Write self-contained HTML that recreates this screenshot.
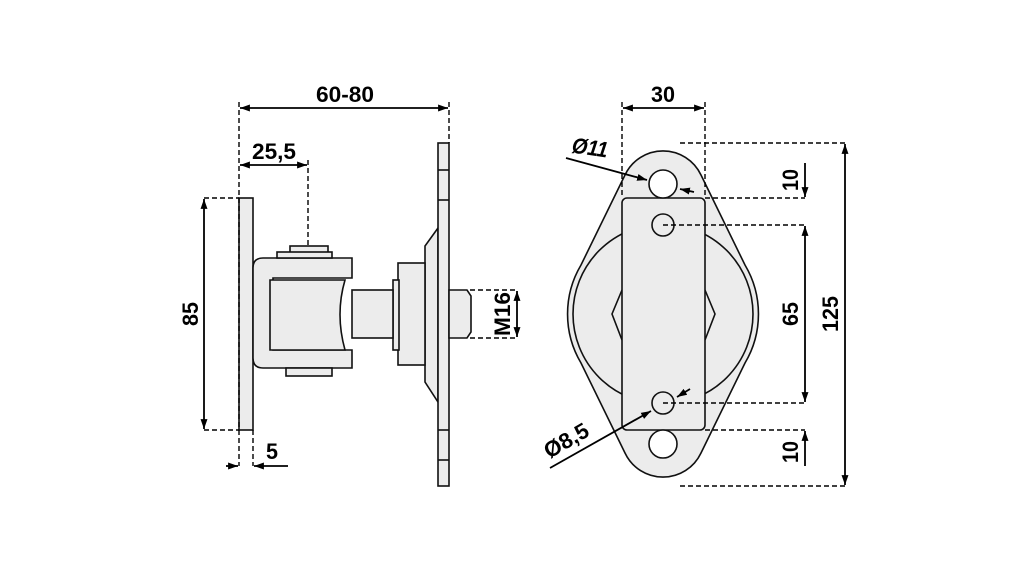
<!DOCTYPE html>
<html><head><style>html,body{margin:0;padding:0;background:#fff}svg{display:block}</style></head>
<body>
<svg width="1021" height="567" viewBox="0 0 1021 567" xmlns="http://www.w3.org/2000/svg">
<defs>
<marker id="a" viewBox="0 0 10 10" refX="10" refY="5" markerWidth="5.5" markerHeight="5.5" orient="auto-start-reverse"><path d="M0,1.5 L10,5 L0,8.5 z" fill="#000"/></marker>
</defs>
<g fill="#ececec" stroke="#111" stroke-width="1.6">
<rect x="239" y="198" width="14" height="232"/>
<path d="M438,228 L425,246 L425,382 L438,402 Z"/>
<rect x="438" y="143" width="11" height="343"/>
<line x1="438" y1="170" x2="449" y2="170"/><line x1="438" y1="200" x2="449" y2="200"/>
<line x1="438" y1="430" x2="449" y2="430"/><line x1="438" y1="460" x2="449" y2="460"/>
<rect x="398" y="263" width="27" height="102"/>
<rect x="393" y="280" width="6" height="70"/>
<rect x="352" y="290" width="41" height="48"/>
<path d="M449,290 L467,290 L471,296 L471,332 L467,338 L449,338 Z"/>
<path d="M253,268 Q253,258 263,258 L352,258 L352,278 L273,278 L273,350 L352,350 L352,368 L263,368 Q253,368 253,358 Z"/>
<path d="M270,280 L345,280 Q335,314 345,350 L270,350 Z"/>
<rect x="290" y="246" width="38" height="10"/>
<rect x="277" y="252" width="55" height="6"/>
<rect x="286" y="368" width="46" height="8"/>
<path d="M625,175 A42,42 0 0 1 701,175 L745,265 A96,96 0 0 1 745,363 L701,453 A42,42 0 0 1 625,453 L581,363 A96,96 0 0 1 581,265 Z"/>
<circle cx="663" cy="314" r="90"/>
<path d="M622,290 L612,314 L622,340 M705,290 L715,314 L705,340" fill="none"/>
<rect x="622" y="198" width="83" height="232" rx="5"/>
<circle cx="663" cy="184" r="14" fill="#fff"/>
<circle cx="663" cy="444" r="14" fill="#fff"/>
<circle cx="663" cy="225" r="11"/>
<circle cx="663" cy="403" r="11"/>
</g>
<g stroke="#000" stroke-width="1.4" fill="none" stroke-dasharray="5,3">
<path d="M239,102 V466 M253,430 V466 M449,102 V143 M308,160 V246 M204,198 H239 M204,430 H239 M470,290 H517 M470,338 H517"/>
<path d="M622,102 V198 M705,102 V198 M680,143 H845 M680,486 H845 M705,198 H805 M663,225 H805 M663,403 H805 M705,430 H805"/>
</g>
<g stroke="#000" stroke-width="1.8" fill="none">
<line x1="240" y1="108" x2="448" y2="108" marker-start="url(#a)" marker-end="url(#a)"/>
<line x1="240" y1="165" x2="307" y2="165" marker-start="url(#a)" marker-end="url(#a)"/>
<line x1="204" y1="199" x2="204" y2="429" marker-start="url(#a)" marker-end="url(#a)"/>
<line x1="517" y1="291" x2="517" y2="337" marker-start="url(#a)" marker-end="url(#a)"/>
<line x1="226" y1="466" x2="238" y2="466" marker-end="url(#a)"/>
<line x1="288" y1="466" x2="254" y2="466" marker-end="url(#a)"/>
<line x1="623" y1="108" x2="704" y2="108" marker-start="url(#a)" marker-end="url(#a)"/>
<line x1="845" y1="144" x2="845" y2="485" marker-start="url(#a)" marker-end="url(#a)"/>
<line x1="805" y1="163" x2="805" y2="197" marker-end="url(#a)"/>
<line x1="805" y1="226" x2="805" y2="402" marker-start="url(#a)" marker-end="url(#a)"/>
<line x1="805" y1="466" x2="805" y2="431" marker-end="url(#a)"/>
<line x1="566" y1="158" x2="647" y2="180" marker-end="url(#a)"/>
<line x1="694" y1="192" x2="680" y2="189" marker-end="url(#a)"/>
<line x1="550" y1="468" x2="651" y2="411" marker-end="url(#a)"/>
<line x1="690" y1="389" x2="677" y2="397" marker-end="url(#a)"/>
</g>
<g font-family="Liberation Sans, sans-serif" font-size="22" fill="#000" text-anchor="middle" font-weight="bold">
<text x="345" y="102" textLength="58" lengthAdjust="spacingAndGlyphs">60-80</text>
<text x="274" y="159" textLength="44" lengthAdjust="spacingAndGlyphs">25,5</text>
<text x="272" y="459" textLength="12" lengthAdjust="spacingAndGlyphs">5</text>
<text transform="translate(198,314) rotate(-90)" textLength="24" lengthAdjust="spacingAndGlyphs">85</text>
<text transform="translate(510,314) rotate(-90)" textLength="44" lengthAdjust="spacingAndGlyphs">M16</text>
<text x="663" y="102" textLength="24" lengthAdjust="spacingAndGlyphs">30</text>
<text transform="translate(798,180) rotate(-90)" textLength="22" lengthAdjust="spacingAndGlyphs">10</text>
<text transform="translate(798,314) rotate(-90)" textLength="24" lengthAdjust="spacingAndGlyphs">65</text>
<text transform="translate(798,452) rotate(-90)" textLength="22" lengthAdjust="spacingAndGlyphs">10</text>
<text transform="translate(838,314) rotate(-90)" textLength="36" lengthAdjust="spacingAndGlyphs">125</text>
<text transform="translate(589,155) rotate(8)" font-style="italic" textLength="36" lengthAdjust="spacingAndGlyphs">Ø11</text>
<text transform="translate(570,447) rotate(-30)" textLength="48" lengthAdjust="spacingAndGlyphs">Ø8,5</text>
</g>
</svg>
</body></html>
